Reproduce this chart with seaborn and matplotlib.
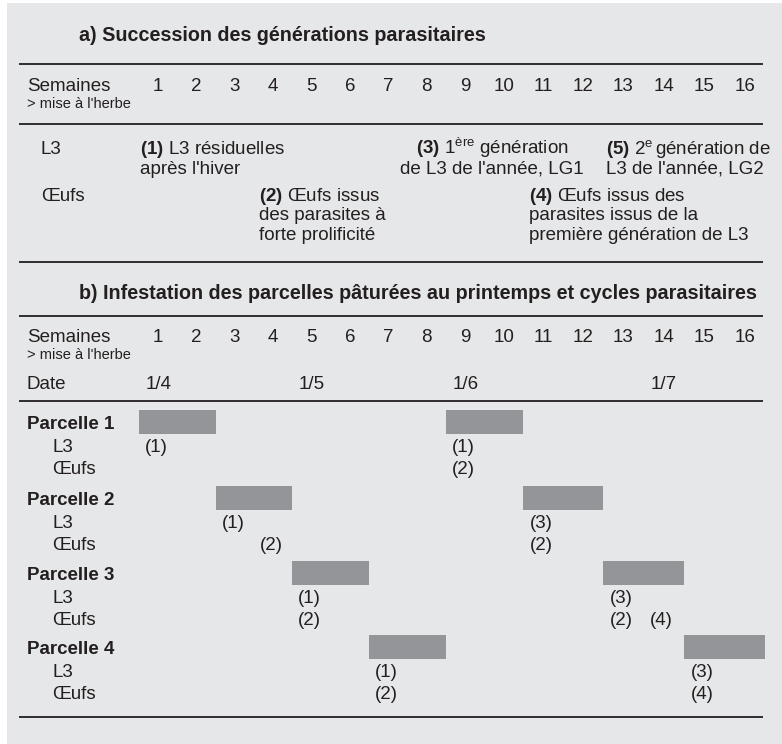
import matplotlib
matplotlib.use("Agg")
import matplotlib.pyplot as plt
import numpy as np
import seaborn as sns

# weeks after turn-out and calendar marks
weeks = list(range(1, 17))
date_labels = ["1/4", "1/5", "1/6", "1/7"]
date_weeks = [1, 5, 9, 14]

# a) successive parasite generations
gen_l3_text = [
    ["$\\mathbf{(1)}$ L3 résiduelles", "après l'hiver"],
    ["$\\mathbf{(3)}$ $\\mathrm{1}^{\\mathrm{ère}}$ génération", "de L3 de l'année, LG1"],
    ["$\\mathbf{(5)}$ $\\mathrm{2}^{\\mathrm{e}}\\,$génération de", "L3 de l'année, LG2"],
]
gen_oeufs_text = [
    ["$\\mathbf{(2)}$ Œufs issus", "des parasites à", "forte prolificité"],
    ["$\\mathbf{(4)}$ Œufs issus des", "parasites issus de la", "première génération de L3"],
]

# b) grazing of the plots
parcelles = ["Parcelle 1", "Parcelle 2", "Parcelle 3", "Parcelle 4"]
bar_starts = [[1, 9], [3, 11], [5, 13], [7, 15]]
bar_weeks = 2
l3_weeks = [[1, 9], [3, 11], [5, 13], [7, 15]]
l3_labels = [["(1)", "(1)"], ["(1)", "(3)"], ["(1)", "(3)"], ["(1)", "(3)"]]
oeufs_weeks = [[9], [4, 11], [5, 13, 14], [7, 15]]
oeufs_labels = [["(2)"], ["(2)", "(2)"], ["(2)", "(2)", "(4)"], ["(2)", "(4)"]]

sns.set_theme(style="white")
plt.rcParams["font.family"] = ["Liberation Sans", "DejaVu Sans"]
plt.rcParams["mathtext.fontset"] = "custom"
plt.rcParams["mathtext.rm"] = "Liberation Sans"
plt.rcParams["mathtext.bf"] = "Liberation Sans:bold"
plt.rcParams["mathtext.it"] = "Liberation Sans:italic"

INK = "#231f20"
PANEL = "#e6e7e8"
BAR = "#939598"
FS = 13.5
FS_SMALL = 10.5
FS_TITLE = 14.2

# week grid of the original drawing (column widths are not quite even)
grid_w = [-20, 0.5, 2.5, 4.5, 6.5, 8.5, 10.5, 12.5, 14.5, 16.5, 40]
grid_px = [-661, 139, 216, 292, 369, 446, 523, 603, 684, 765, 1715]


def fwd(w):
    return np.interp(w, grid_w, grid_px)


def inv(px):
    return np.interp(px, grid_px, grid_w)


fig = plt.figure(figsize=(7.82, 7.44), dpi=100, facecolor="white")
ax = fig.add_axes([7 / 782, 0, 775 / 782, 741 / 744], facecolor=PANEL)
ax.set_xscale("function", functions=(fwd, inv))
ax.set_xlim(inv(7), inv(782))
ax.set_ylim(744, 3)
ax.axis("off")
ax.add_patch(plt.Rectangle((0, 0), 1, 1, transform=ax.transAxes, color=PANEL, zorder=0))


def txt(x, y, s, **kw):
    kw.setdefault("fontsize", FS)
    kw.setdefault("color", INK)
    kw.setdefault("va", "baseline")
    ax.text(x, y, s, **kw)


def block(x, y, lines, step=19.5, **kw):
    for i, line in enumerate(lines):
        txt(x, y + i * step, line, **kw)


for y in [64, 124, 262, 316, 401, 717]:
    ax.plot([inv(19), inv(763)], [y, y], color=INK, lw=1.3, solid_capstyle="butt")

# ---- a)
txt(inv(79), 41, "a) Succession des générations parasitaires",
    fontweight="bold", fontsize=FS_TITLE)
txt(inv(27), 91, "Semaines")
txt(inv(27), 108, "> mise à l'herbe", fontsize=FS_SMALL)
for w in weeks:
    txt(w, 91, str(w), ha="center")
txt(inv(41), 154, "L3")
txt(inv(41), 201, "Œufs")
block(inv(140), 154, gen_l3_text[0])
block(inv(492), 154, gen_l3_text[1], ha="center")
block(inv(606), 154, gen_l3_text[2])
block(inv(259), 201, gen_oeufs_text[0])
block(inv(529), 201, gen_oeufs_text[1])

# ---- b)
txt(inv(79), 299, "b) Infestation des parcelles pâturées au printemps et cycles parasitaires",
    fontweight="bold", fontsize=FS_TITLE)
txt(inv(27), 342, "Semaines")
txt(inv(27), 359, "> mise à l'herbe", fontsize=FS_SMALL)
for w in weeks:
    txt(w, 342, str(w), ha="center")
txt(inv(27), 389, "Date")
for w, d in zip(date_weeks, date_labels):
    txt(w, 389, d, ha="center")

row_y = [423, 499, 574, 648]
for i, name in enumerate(parcelles):
    y0 = row_y[i]
    txt(inv(27), y0 + 6, name, fontweight="bold")
    txt(inv(52), y0 + 29, "L3")
    txt(inv(52), y0 + 51, "Œufs")
    ax.barh([y0 - 1] * len(bar_starts[i]), [bar_weeks] * len(bar_starts[i]),
            left=[s - 0.5 for s in bar_starts[i]], height=24, color=BAR,
            edgecolor="none", linewidth=0, zorder=2)
    for w, lab in zip(l3_weeks[i], l3_labels[i]):
        txt(w - 0.05, y0 + 29, lab, ha="center")
    for w, lab in zip(oeufs_weeks[i], oeufs_labels[i]):
        txt(w - 0.05, y0 + 51, lab, ha="center")

fig.savefig("out.png", dpi=100, facecolor="white")
